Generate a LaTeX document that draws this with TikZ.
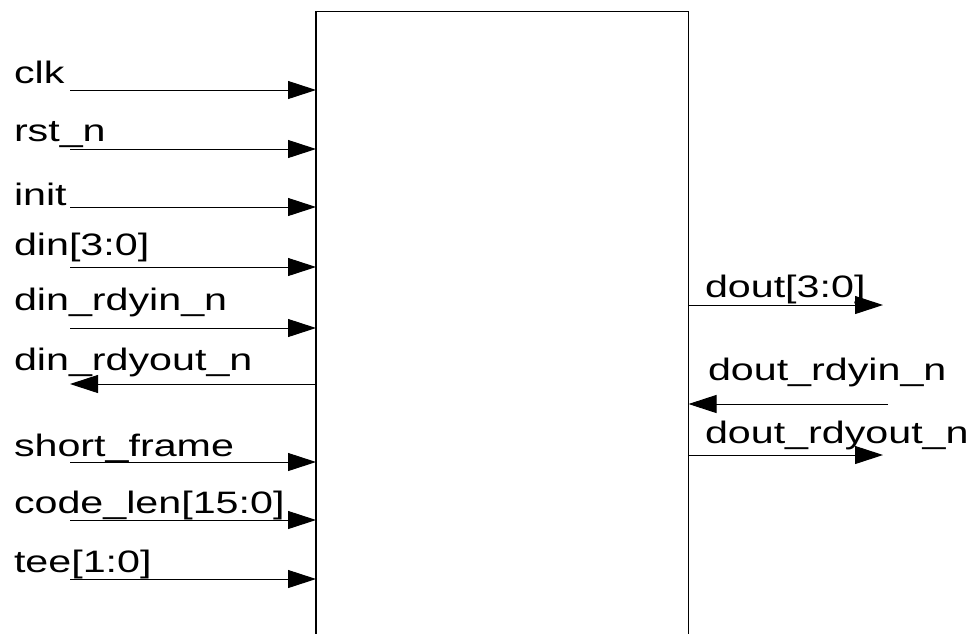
\documentclass[tikz,border=0pt]{standalone}
\usepackage{fontspec}
\setmainfont{Liberation Sans}[FakeStretch=1.33]
\usetikzlibrary{arrows.meta}
\begin{document}
\begin{tikzpicture}[x=1pt,y=-1pt,
  sig/.style={line width=1pt,-{Triangle[length=28pt,width=18pt]}},
  lbl/.style={anchor=base west,inner sep=0pt,outer sep=0pt,font=\fontsize{31}{37}\selectfont},
  blockbox/.style={draw,line width=1.3pt,minimum width=372.5pt,minimum height=700pt,anchor=north west,inner sep=0pt,outer sep=0pt}]
\useasboundingbox (0,0) rectangle (971,633);
\clip (0,0) rectangle (971,633);
\node[blockbox] (blk) at (316,11.5) {};
% left side inputs
\coordinate (clkS) at (70,90);
\coordinate (rstS) at (70,149);
\coordinate (initS) at (70,207);
\coordinate (dinS) at (70,267);
\coordinate (rdyinS) at (70,328);
\coordinate (rdyoutS) at (70,384);
\coordinate (sfS) at (70,462);
\coordinate (clS) at (70,520);
\coordinate (teeS) at (70,579);
\draw[sig] (clkS) -- (clkS -| blk.west);
\draw[sig] (rstS) -- (rstS -| blk.west);
\draw[sig] (initS) -- (initS -| blk.west);
\draw[sig] (dinS) -- (dinS -| blk.west);
\draw[sig] (rdyinS) -- (rdyinS -| blk.west);
\draw[sig] (rdyoutS -| blk.west) -- (rdyoutS);
\draw[sig] (sfS) -- (sfS -| blk.west);
\draw[sig] (clS) -- (clS -| blk.west);
\draw[sig] (teeS) -- (teeS -| blk.west);
\node[lbl] (tclk) at (14,83) {clk};
\node[lbl] (trst) at (14,141) {rst\_n};
\node[lbl] (tinit) at (14,205) {init};
\node[lbl] (tdin) at (14,255) {din[3:0]};
\node[lbl] (trdyin) at (14,310) {din\_rdyin\_n};
\node[lbl] (trdyout) at (14,370) {din\_rdyout\_n};
\node[lbl] (tsf) at (14,456) {short\_frame};
\node[lbl] (tcl) at (14,513) {code\_len[15:0]};
\node[lbl] (ttee) at (14,572) {tee[1:0]};
% right side
\coordinate (doutE) at (883,305);
\coordinate (drinS) at (888,404);
\coordinate (droutE) at (883,455);
\draw[sig] (doutE -| blk.east) -- (doutE);
\draw[sig] (drinS) -- (drinS -| blk.east);
\draw[sig] (droutE -| blk.east) -- (droutE);
\node[lbl] (tdout) at (705,297) {dout[3:0]};
\node[lbl] (tdrin) at (708,380) {dout\_rdyin\_n};
\node[lbl] (tdrout) at (705,443) {dout\_rdyout\_n};
\end{tikzpicture}
\end{document}
